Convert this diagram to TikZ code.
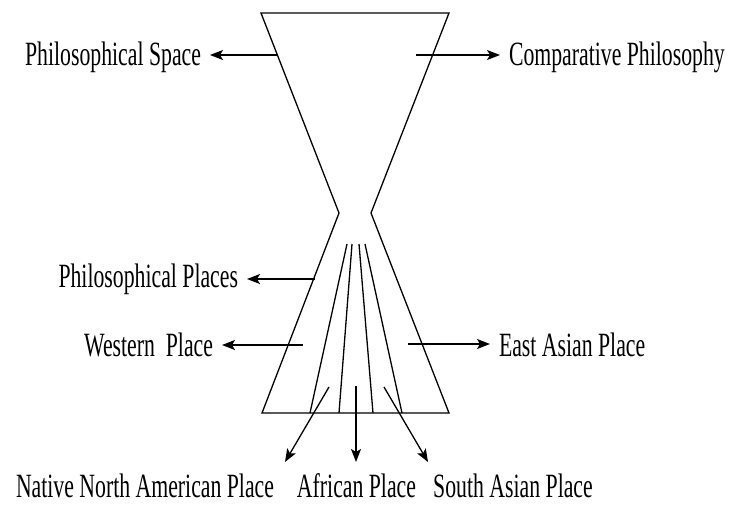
\documentclass[tikz,border=0pt]{standalone}
\usepackage{fontspec}
\setmainfont{Liberation Serif}[FakeStretch=0.64]
\usetikzlibrary{arrows.meta}
\begin{document}
\begin{tikzpicture}[x=1pt,y=-1pt,
  shape line/.style={line width=1.3pt},
  arr/.style={line width=1.3pt,-{Stealth[length=13pt,width=10pt,inset=3pt]}},
  lbl/.style={inner sep=0pt,outer xsep=9pt,font=\fontsize{34}{40}\selectfont}]
\useasboundingbox (0,0) rectangle (736,504);
% hourglass outline
\coordinate (tl) at (261,13);
\coordinate (tr) at (449,13);
\coordinate (nl) at (339,213);
\coordinate (nr) at (371,213);
\coordinate (bl) at (262,413);
\coordinate (br) at (449,413);
\draw[shape line,line join=miter] (tl) -- (tr) -- (nr) -- (br) -- (bl) -- (nl) -- cycle;
% inner lines
\coordinate (i1a) at (347,244); \coordinate (i1b) at (310,413);
\coordinate (i2a) at (352,244); \coordinate (i2b) at (339,413);
\coordinate (i3a) at (359,244); \coordinate (i3b) at (373,413);
\coordinate (i4a) at (365,244); \coordinate (i4b) at (402,413);
\draw[shape line] (i1a) -- (i1b) (i2a) -- (i2b) (i3a) -- (i3b) (i4a) -- (i4b);
% side labels
\node[lbl,anchor=base east] (psl) at (210,65) {Philosophical Space};
\node[lbl,anchor=base west] (cpl) at (500,65) {Comparative Philosophy};
\node[lbl,anchor=base east] (ppl) at (247,287) {Philosophical Places};
\node[lbl,anchor=base east] (wpl) at (222,356) {Western\ \ Place};
\node[lbl,anchor=base west] (eal) at (490,356) {East Asian Place};
\coordinate (s1) at (278,55);
\coordinate (s2) at (416,55);
\coordinate (s3) at (315,279);
\coordinate (s4) at (303,345);
\coordinate (s5) at (408,344);
\draw[arr] (s1) -- (s1 -| psl.east);
\draw[arr] (s2) -- (s2 -| cpl.west);
\draw[arr] (s3) -- (s3 -| ppl.east);
\draw[arr] (s4) -- (s4 -| wpl.east);
\draw[arr] (s5) -- (s5 -| eal.west);
% bottom labels
\node[lbl,outer xsep=0pt,anchor=base] (nal) at (145,497) {Native North American Place};
\node[lbl,outer xsep=0pt,anchor=base] (afl) at (356.5,497) {African Place};
\node[lbl,outer xsep=0pt,anchor=base] (sal) at (513,497) {South Asian Place};
\coordinate (b1s) at (329,387); \coordinate (b1e) at (285,462);
\coordinate (b2s) at (356,386); \coordinate (b2e) at (356,462);
\coordinate (b3s) at (384,387); \coordinate (b3e) at (428,462);
\draw[arr] (b1s) -- (b1e);
\draw[arr] (b2s) -- (b2e);
\draw[arr] (b3s) -- (b3e);
\end{tikzpicture}
\end{document}
